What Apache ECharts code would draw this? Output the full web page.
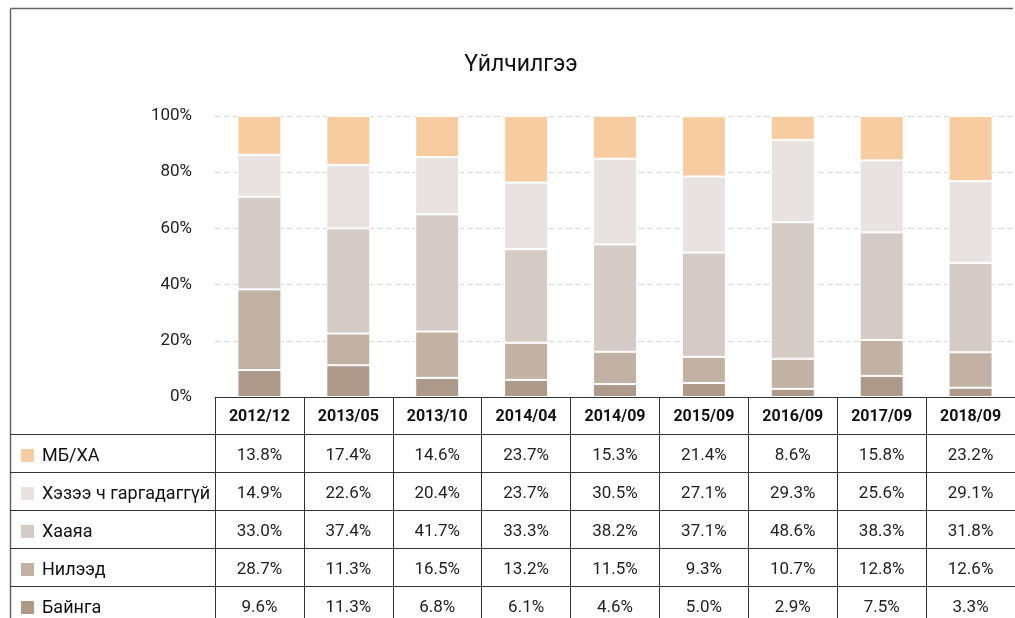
<!DOCTYPE html>
<html>
<head>
<meta charset="utf-8">
<script src="https://cdn.jsdelivr.net/npm/echarts@6/dist/echarts.min.js"></script>
<style>
  html, body { margin: 0; padding: 0; background: #fff; }
  #chart { width: 1015px; height: 618px; }
</style>
</head>
<body>
<div id="chart"></div>
<script>
// Survey periods
const periods = ['2012/12', '2013/05', '2013/10', '2014/04', '2014/09', '2015/09', '2016/09', '2017/09', '2018/09'];

// Response shares (%) per period
const bayanga   = [9.6, 11.3, 6.8, 6.1, 4.6, 5.0, 2.9, 7.5, 3.3];          // Байнга
const nileed    = [28.7, 11.3, 16.5, 13.2, 11.5, 9.3, 10.7, 12.8, 12.6];   // Нилээд
const khaaya    = [33.0, 37.4, 41.7, 33.3, 38.2, 37.1, 48.6, 38.3, 31.8];  // Хааяа
const khezee    = [14.9, 22.6, 20.4, 23.7, 30.5, 27.1, 29.3, 25.6, 29.1];  // Хэзээ ч гаргадаггүй
const mbkha     = [13.8, 17.4, 14.6, 23.7, 15.3, 21.4, 8.6, 15.8, 23.2];   // МБ/ХА

const seriesNames = ['Байнга', 'Нилээд', 'Хааяа', 'Хэзээ ч гаргадаггүй', 'МБ/ХА'];
const seriesData  = [bayanga, nileed, khaaya, khezee, mbkha];
const colors      = ['#ad9a8b', '#c1b2a4', '#d5cbc6', '#e8e3e0', '#f8cca1'];

// Table rows, top to bottom
const tableOrder = [4, 3, 2, 1, 0];

const FONT = "Roboto, 'DejaVu Sans Condensed', sans-serif";
const LINE = '#333';

const gridLeft = 215, gridTop = 116, gridHeight = 281, gridWidth = 808;
const headerH = 37, rowH = 38;
const tableTop = gridTop + gridHeight;

const chart = echarts.init(document.getElementById('chart'));

// First x axis: period header row; following axes: one table row each
const xAxes = [{
  type: 'category',
  data: periods,
  position: 'bottom',
  offset: 0,
  axisLine: { show: true, onZero: false, lineStyle: { color: LINE, width: 1 } },
  axisTick: { show: true, length: headerH, interval: 0, lineStyle: { color: LINE, width: 1 } },
  axisLabel: { interval: 0, margin: 20, verticalAlign: 'middle', fontFamily: FONT, fontSize: 16, fontWeight: 'bold', color: '#111' }
}];
tableOrder.forEach((si, r) => {
  xAxes.push({
    type: 'category',
    data: seriesData[si].map(v => v.toFixed(1) + '%'),
    position: 'bottom',
    offset: headerH + r * rowH,
    axisLine: { show: true, onZero: false, lineStyle: { color: LINE, width: 1 } },
    axisTick: { show: true, length: rowH, interval: 0, lineStyle: { color: LINE, width: 1 } },
    axisLabel: { interval: 0, margin: 22, verticalAlign: 'middle', fontFamily: FONT, fontSize: 17, color: '#222' }
  });
});

// Outer frame and the label column of the table
const graphics = [
  { type: 'line', shape: { x1: 10.5, y1: 8.5, x2: 1013, y2: 8.5 }, style: { stroke: '#666', lineWidth: 1.5 } },
  { type: 'line', shape: { x1: 10.5, y1: 8.5, x2: 10.5, y2: 618 }, style: { stroke: '#666', lineWidth: 1.5 } }
];
tableOrder.forEach((si, r) => {
  const yTop = tableTop + headerH + r * rowH;
  const yMid = yTop + rowH / 2;
  graphics.push({ type: 'line', shape: { x1: 10, y1: yTop + 0.5, x2: gridLeft, y2: yTop + 0.5 }, style: { stroke: LINE, lineWidth: 1 } });
  graphics.push({ type: 'rect', shape: { x: 21, y: yMid - 4, width: 13, height: 13 }, style: { fill: colors[si] } });
  graphics.push({
    type: 'text', x: 42, y: yMid + 3,
    style: { text: seriesNames[si], fontFamily: FONT, fontSize: 18, fill: '#111', verticalAlign: 'middle', align: 'left' }
  });
});

const option = {
  animation: false,
  backgroundColor: '#fff',
  title: {
    text: 'Үйлчилгээ',
    left: 516,
    top: 49,
    textAlign: 'center',
    textStyle: { fontFamily: FONT, fontSize: 23, fontWeight: 'normal', color: '#111' }
  },
  grid: { left: gridLeft, top: gridTop, width: gridWidth, height: gridHeight, containLabel: false },
  xAxis: xAxes,
  yAxis: {
    type: 'value',
    min: 0,
    max: 100,
    interval: 20,
    axisLine: { show: false },
    axisTick: { show: false },
    axisLabel: { formatter: '{value}%', margin: 23, fontFamily: FONT, fontSize: 17, color: '#222' },
    splitLine: { lineStyle: { color: '#dadada', type: [6, 3], width: 1 } }
  },
  series: seriesNames.map((name, i) => ({
    name,
    type: 'bar',
    stack: 'total',
    xAxisIndex: 0,
    barWidth: 44,
    data: seriesData[i],
    itemStyle: { color: colors[i], borderColor: '#fff', borderWidth: 1 }
  })),
  graphic: graphics
};

chart.setOption(option);
</script>
</body>
</html>
